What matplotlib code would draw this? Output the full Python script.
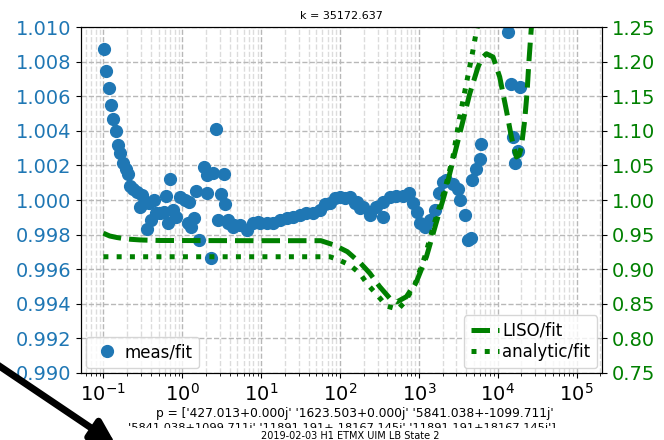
"""Measured / fit ratio with LISO and analytic model ratios."""

import matplotlib

matplotlib.use("Agg")
import matplotlib.pyplot as plt
from matplotlib.patches import FancyArrowPatch, Rectangle

# measured / fit (left axis)
meas_freq = [
    0.1007, 0.1085, 0.1175, 0.1245, 0.133, 0.143, 0.154, 0.163, 0.177, 0.191,
    0.205, 0.215, 0.239, 0.266, 0.305, 0.288, 0.329, 0.377, 0.433, 0.356,
    0.400, 0.459, 0.516, 0.579, 0.620, 0.703, 0.663, 0.754, 0.830, 0.940,
    1.079, 1.213, 1.167, 1.285, 1.416, 1.50, 1.62, 1.895, 2.05, 2.05,
    2.30, 2.44, 2.64, 3.08, 3.34, 3.47, 2.80, 3.75, 4.55, 5.42,
    6.59, 7.78, 9.0, 3.8, 4.38, 9.65, 11.7, 14.2, 17.3, 21.0,
    25.5, 30.9, 37.6, 45.6, 55.4, 64.1, 74.2, 85.9, 99.4, 115,
    133, 154, 178, 162, 196, 239, 290, 352, 352, 428,
    520, 631, 751, 844, 949, 1026, 1188, 1374, 1591, 1804,
    2027, 2240, 2716, 3143, 3368, 3817, 4206, 4645, 4777, 5260,
    5914, 6210, 13520, 14930, 19020, 15630, 18070, 16560,
]
meas_ratio = [
    1.00871, 1.00747, 1.00647, 1.00547, 1.0047, 1.00401, 1.0032, 1.0027, 1.00212, 1.00178,
    1.0015, 1.00081, 1.00062, 1.00046, 1.00031, 0.99958, 0.99981, 0.99984, 1.0000, 0.99831,
    0.99884, 0.99927, 0.99927, 0.99932, 1.00023, 1.0012, 0.99865, 0.99942, 0.99904, 1.00019,
    1.0000, 0.99990, 0.99865, 0.99846, 0.99894, 1.0005, 0.99769, 1.00193, 1.00143, 1.00039,
    0.99663, 1.00158, 1.00412, 1.00035, 1.0015, 0.99977, 0.99884, 0.99884, 0.99856, 0.99856,
    0.99827, 0.99865, 0.99875, 0.99867, 0.99846, 0.99865, 0.99865, 0.99865, 0.99884, 0.99894,
    0.99904, 0.99913, 0.99923, 0.99927, 0.99942, 0.99977, 0.99981, 1.00010, 1.00019, 1.00010,
    1.00019, 0.99981, 0.99952, 0.99990, 0.99961, 0.99913, 0.99961, 0.99904, 0.99990, 1.00019,
    1.00023, 1.00023, 1.00039, 0.99981, 0.99932, 0.99865, 0.99846, 0.99884, 0.99942, 1.00041,
    1.00106, 1.00114, 1.00094, 1.00065, 0.99998, 0.99912, 0.99769, 0.99779, 1.00114, 1.00181,
    1.00239, 1.00322, 1.00973, 1.00672, 1.00653, 1.00364, 1.00283, 1.00214,
]

# LISO / fit (right axis)
liso_freq = [
    0.1, 0.12, 0.148, 0.18, 0.223, 0.3, 0.52, 7.2, 57.2, 84.1,
    124, 183, 239, 319, 428, 525, 696, 933, 1249, 1671,
    2129, 2712, 3465, 4418, 5627, 6300, 7190, 8718, 10600, 12880,
    14920, 17260, 18720, 19950, 21980, 23500, 24930, 26730, 27700,
]
liso_ratio = [
    0.952, 0.948, 0.9458, 0.9443, 0.9432, 0.9422, 0.9415, 0.9412, 0.9412, 0.935,
    0.9253, 0.9085, 0.8941, 0.8747, 0.858, 0.8526, 0.8603, 0.882, 0.9181, 0.9682,
    1.0091, 1.0574, 1.1055, 1.1536, 1.1922, 1.205, 1.2114, 1.2067, 1.1778, 1.1296,
    1.091, 1.0622, 1.065, 1.0766, 1.1152, 1.1536, 1.2019, 1.25, 1.2746,
]

# analytic / fit (right axis)
analytic_freq = [
    0.1, 74.3, 92.9, 133, 178, 227, 304, 388, 545, 662,
    887, 1186, 1589, 2127, 2691, 3300, 4010, 4418, 4864, 5260, 5580,
]
analytic_ratio = [
    0.918, 0.918, 0.9143, 0.9061, 0.8941, 0.8772, 0.8613, 0.8468, 0.8421, 0.8526,
    0.8772, 0.9176, 0.9682, 1.0145, 1.0607, 1.12, 1.1686, 1.1926, 1.2168, 1.2384, 1.2529,
]

title = "k = 35172.637"
pole_line1 = "p = ['427.013+0.000j' '1623.503+0.000j' '5841.038+-1099.711j'"
pole_line2 = "'5841.038+1099.711j' '11891.191+-18167.145j' '11891.191+18167.145j']"
page_title = "2019-02-03 H1 ETMX UIM LB State 2"


def main() -> None:
    fig = plt.figure(figsize=(6.64, 4.40), dpi=100)
    ax1 = fig.add_axes([0.122, 0.1523, 0.7846, 0.7863])
    ax2 = ax1.twinx()

    ax1.plot(meas_freq, meas_ratio, "o", ms=8.5, color="C0", label="meas/fit")
    ax2.plot(liso_freq, liso_ratio, "--", lw=3.6, color="g", label="LISO/fit")
    ax2.plot(analytic_freq, analytic_ratio, ":", lw=3.6, color="g", label="analytic/fit")

    ax1.set_xscale("log")
    ax1.set_xlim(0.052, 2.1e5)
    ax1.set_ylim(0.990, 1.010)
    ax2.set_ylim(0.75, 1.25)
    ax1.set_yticks([0.990 + 0.002 * i for i in range(11)])
    ax2.set_yticks([0.75 + 0.05 * i for i in range(11)])

    ax1.grid(which="major", ls="--", color="#b8b8b8", lw=1.0)
    ax1.grid(which="minor", axis="x", ls="--", color="#dcdcdc", lw=1.0)
    ax1.set_axisbelow(True)

    ax1.tick_params(axis="both", labelsize=14)
    ax1.tick_params(axis="y", labelcolor="C0")
    ax2.tick_params(axis="y", labelsize=14, labelcolor="g")

    ax1.legend(loc="lower left", fontsize=12, borderaxespad=0.3,
               handlelength=1.7, handletextpad=0.2)
    ax2.legend(loc="lower right", fontsize=12, borderaxespad=0.3,
               handlelength=1.7, handletextpad=0.2, labelspacing=0.2)

    ax1.set_title(title, fontsize=8, pad=6)

    fig.text(355 / 664, 1 - 413 / 440, pole_line1, ha="center", va="center", fontsize=8.8)
    fig.text(342 / 664, 1 - 428 / 440, pole_line2, ha="center", va="center", fontsize=8.2)
    fig.add_artist(Rectangle((0, 0), 1, 12 / 440, transform=fig.transFigure,
                             facecolor="white", edgecolor="none", zorder=5))
    fig.text(350 / 664, 1 - 436 / 440, page_title, ha="center", va="center",
             fontsize=7, zorder=6)

    arrow = FancyArrowPatch((-0.01, 1 - 362 / 440), (118 / 664, -6 / 440),
                            transform=fig.transFigure, arrowstyle="-|>",
                            mutation_scale=35, lw=5, color="black", zorder=10)
    fig.add_artist(arrow)

    fig.savefig("out.png", dpi=100)


if __name__ == "__main__":
    main()
